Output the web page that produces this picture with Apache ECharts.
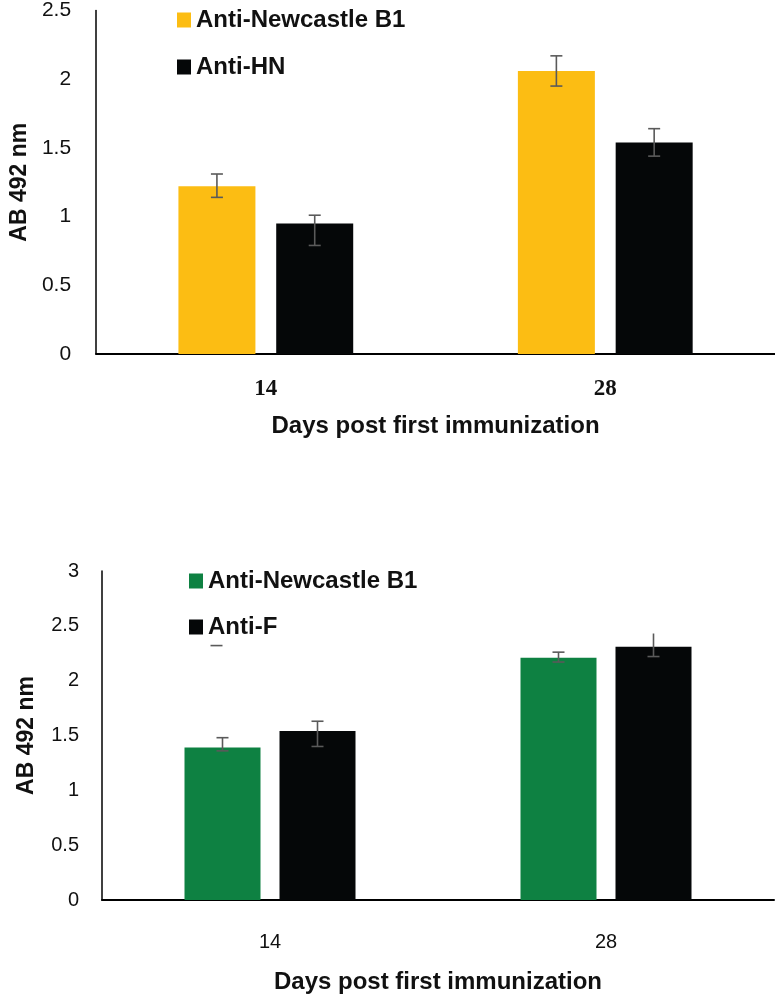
<!DOCTYPE html>
<html>
<head>
<meta charset="utf-8">
<script src="https://cdn.jsdelivr.net/npm/echarts@6/dist/echarts.min.js"></script>
<style>
html,body{margin:0;padding:0;background:#fff;}
#chart{width:775px;height:995px;}
</style>
</head>
<body>
<div id="chart"></div>
<script>
// ---- data ----
const categories = ['14', '28'];
const topYMax = 2.5;
const botYMax = 3;
const yInterval = 0.5;

const topNewcastle = [1.22, 2.06];
const topNewcastleLo = [1.14, 1.95];
const topNewcastleHi = [1.31, 2.17];
const topHN = [0.95, 1.54];
const topHNLo = [0.79, 1.44];
const topHNHi = [1.01, 1.64];

const botNewcastle = [1.39, 2.21];
const botNewcastleLo = [1.36, 2.17];
const botNewcastleHi = [1.48, 2.26];
const botF = [1.54, 2.31];
const botFLo = [1.40, 2.22];
const botFHi = [1.63, 2.43];
const botFCapTop = [1, 0];
const strayCapValue = [2.32, null]; // stray cap above the 14-day green bar

const nameNewcastle = 'Anti-Newcastle B1';
const nameHN = 'Anti-HN';
const nameF = 'Anti-F';

// ---- styles ----
const YELLOW = '#FCBD13';
const GREEN = '#0E8142';
const BLACK = '#050708';
const ERR = '#5a5a5a';
const TICK_FONT = "'Liberation Sans Narrow','Liberation Sans',sans-serif";

function errSeries(xi, lo, hi, offset, caps, name) {
  const data = lo.map((v, i) => [i, v, hi[i], caps ? caps[i] : 1]);
  return {
    type: 'custom', name: name, xAxisIndex: xi, yAxisIndex: xi, z: 10,
    silent: true,
    encode: {x: 0, y: [1, 2]},
    data: data,
    renderItem: function (params, api) {
      const c = api.value(0);
      const pLo = api.coord([c, api.value(1)]);
      const pHi = api.coord([c, api.value(2)]);
      const x = pLo[0] + offset;
      const st = {stroke: ERR, lineWidth: 1.6};
      const ch = [
        {type: 'line', shape: {x1: x, y1: pHi[1], x2: x, y2: pLo[1]}, style: st},
        {type: 'line', shape: {x1: x - 6, y1: pLo[1], x2: x + 6, y2: pLo[1]}, style: st}
      ];
      if (api.value(3)) ch.push({type: 'line', shape: {x1: x - 6, y1: pHi[1], x2: x + 6, y2: pHi[1]}, style: st});
      return {type: 'group', children: ch};
    }
  };
}

function capOnly(xi, vals, offset) {
  const data = [];
  vals.forEach((v, i) => { if (v != null) data.push([i, v]); });
  return {
    type: 'custom', xAxisIndex: xi, yAxisIndex: xi, z: 10, silent: true,
    encode: {x: 0, y: 1}, data: data,
    renderItem: function (params, api) {
      const p = api.coord([api.value(0), api.value(1)]);
      const x = p[0] + offset;
      return {type: 'line', shape: {x1: x - 6, y1: p[1], x2: x + 6, y2: p[1]}, style: {stroke: ERR, lineWidth: 1.6}};
    }
  };
}

const TOP_BW = 77, TOP_GAP = 0.27;
const BOT_BW = 76, BOT_GAP = 0.25;
const topOff = (TOP_BW + TOP_BW * TOP_GAP) / 2;
const botOff = (BOT_BW + BOT_BW * BOT_GAP) / 2;

function yAxis(gi, max, fs) {
  return {
    type: 'value', gridIndex: gi, min: 0, max: max, interval: yInterval,
    name: 'AB 492 nm', nameLocation: 'middle', nameRotate: 90,
    nameGap: gi === 0 ? 64 : 64,
    nameTextStyle: {fontFamily: "'Liberation Sans',sans-serif", fontWeight: 'bold', fontSize: 23, color: '#111'},
    axisLine: {show: true, lineStyle: {color: '#000', width: 1.5}},
    axisTick: {show: false},
    splitLine: {show: false},
    axisLabel: {fontFamily: TICK_FONT, fontSize: fs, color: '#111', margin: gi === 0 ? 25 : 23}
  };
}

function xAxis(gi, labelStyle, nameGap) {
  return {
    type: 'category', gridIndex: gi, data: categories,
    name: 'Days post first immunization', nameLocation: 'middle', nameGap: nameGap,
    nameTextStyle: {fontFamily: "'Liberation Sans',sans-serif", fontWeight: 'bold', fontSize: 24, color: '#111'},
    axisLine: {show: true, lineStyle: {color: '#000', width: 2}},
    axisTick: {show: false},
    axisLabel: Object.assign({color: '#111'}, labelStyle)
  };
}

const chart = echarts.init(document.getElementById('chart'), null, {renderer: 'canvas'});
chart.setOption({
  animation: false,
  backgroundColor: '#fff',
  grid: [
    {left: 90, top: 8, width: 685, height: 346},
    {left: 102, top: 571, width: 672, height: 340}
  ],
  legend: [
    {
      orient: 'vertical', left: 172, top: 2, itemGap: 21, itemWidth: 14, itemHeight: 15, icon: 'rect',
      data: [nameNewcastle, nameHN],
      textStyle: {fontFamily: "'Liberation Sans',sans-serif", fontWeight: 'bold', fontSize: 24, color: '#111', lineHeight: 26}
    },
    {
      orient: 'vertical', left: 184, top: 563, itemGap: 20, itemWidth: 14, itemHeight: 15, icon: 'rect',
      data: [nameNewcastle + ' ', nameF],
      formatter: function (n) { return n.trim(); },
      textStyle: {fontFamily: "'Liberation Sans',sans-serif", fontWeight: 'bold', fontSize: 24, color: '#111', lineHeight: 26}
    }
  ],
  xAxis: [
    xAxis(0, {fontFamily: "'Liberation Serif',serif", fontWeight: 'bold', fontSize: 23, margin: 24}, 60),
    xAxis(1, {fontFamily: TICK_FONT, fontSize: 20, margin: 32}, 70)
  ],
  yAxis: [yAxis(0, topYMax, 21), yAxis(1, botYMax, 20)],
  series: [
    {type: 'bar', name: nameNewcastle, xAxisIndex: 0, yAxisIndex: 0, data: topNewcastle,
      barWidth: TOP_BW, barGap: (TOP_GAP * 100) + '%', itemStyle: {color: YELLOW}},
    {type: 'bar', name: nameHN, xAxisIndex: 0, yAxisIndex: 0, data: topHN,
      barWidth: TOP_BW, barGap: (TOP_GAP * 100) + '%', itemStyle: {color: BLACK}},
    {type: 'bar', name: nameNewcastle + ' ', xAxisIndex: 1, yAxisIndex: 1, data: botNewcastle,
      barWidth: BOT_BW, barGap: (BOT_GAP * 100) + '%', itemStyle: {color: GREEN}},
    {type: 'bar', name: nameF, xAxisIndex: 1, yAxisIndex: 1, data: botF,
      barWidth: BOT_BW, barGap: (BOT_GAP * 100) + '%', itemStyle: {color: BLACK}},
    errSeries(0, topNewcastleLo, topNewcastleHi, -topOff, null, 'errTopN'),
    errSeries(0, topHNLo, topHNHi, topOff, null, 'errTopHN'),
    errSeries(1, botNewcastleLo, botNewcastleHi, -botOff, null, 'errBotN'),
    errSeries(1, botFLo, botFHi, botOff, botFCapTop, 'errBotF'),
    capOnly(1, strayCapValue, -botOff - 6)
  ]
});
</script>
</body>
</html>
